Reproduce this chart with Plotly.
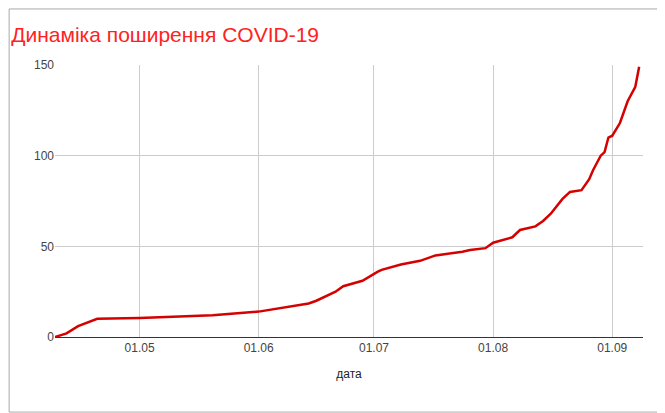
import plotly.graph_objects as go

dates = ['2020-04-09', '2020-04-12', '2020-04-15', '2020-04-20', '2020-05-01', '2020-05-20',
         '2020-06-01', '2020-06-09', '2020-06-14', '2020-06-16', '2020-06-21', '2020-06-23',
         '2020-06-26', '2020-06-28', '2020-07-02', '2020-07-03', '2020-07-08', '2020-07-13',
         '2020-07-17', '2020-07-24', '2020-07-26', '2020-07-30', '2020-08-01', '2020-08-04',
         '2020-08-06', '2020-08-08', '2020-08-12', '2020-08-14', '2020-08-16', '2020-08-19',
         '2020-08-21', '2020-08-24', '2020-08-26', '2020-08-27', '2020-08-29', '2020-08-30',
         '2020-08-31', '2020-09-01', '2020-09-03', '2020-09-05', '2020-09-07', '2020-09-08']
cases = [0, 2, 6, 10, 10.5, 12,
         14, 17, 18.5, 20, 25, 28,
         30, 31, 36, 37, 40, 42,
         45, 47, 48, 49, 52, 54,
         55, 59, 61, 64, 68, 76,
         80, 81, 87, 92, 100, 102,
         110, 111, 118, 130, 138, 149]
tick_vals = ['2020-05-01', '2020-06-01', '2020-07-01', '2020-08-01', '2020-09-01']
tick_text = ['01.05', '01.06', '01.07', '01.08', '01.09']

fig = go.Figure(go.Scatter(x=dates, y=cases, mode='lines',
                           line=dict(color='#d50000', width=2.5), hoverinfo='x+y'))

fig.update_layout(
    width=657, height=405,
    paper_bgcolor='white', plot_bgcolor='white',
    font=dict(family='Arial, Liberation Sans', size=12, color='#444'),
    title=dict(text='Динаміка поширення COVID-19', x=0.005, xanchor='left',
               y=0.933, yanchor='middle',
               font=dict(size=21, color='#ff2222')),
    margin=dict(l=47, r=22, t=57, b=76),
    showlegend=False,
    shapes=[dict(type='rect', xref='paper', yref='paper', x0=-0.078, x1=1.036, y0=-0.276, y1=1.206,
                 line=dict(color='#aaaaaa', width=1))],
)
fig.update_xaxes(range=['2020-04-09', '2020-09-09'], tickvals=tick_vals, ticktext=tick_text,
                 showgrid=True, gridcolor='#cccccc', showline=True, linecolor='#333',
                 title=dict(text='дата', font=dict(size=12, color='#222')), ticks='')
fig.update_yaxes(range=[0, 150], tickvals=[0, 50, 100, 150], showgrid=True, gridcolor='#cccccc',
                 zeroline=False, ticks='')

fig.write_html("out.html")
